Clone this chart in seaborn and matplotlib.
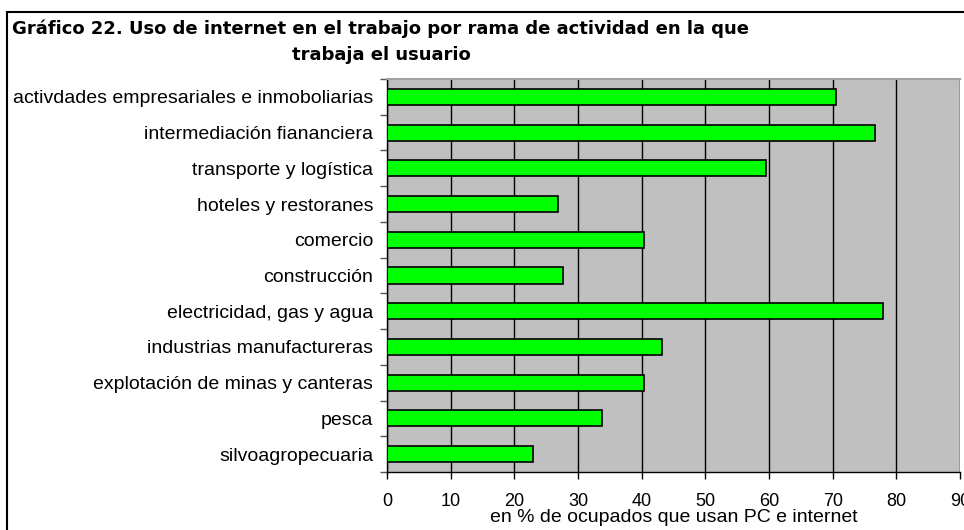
import matplotlib
matplotlib.use("Agg")
import matplotlib.pyplot as plt
import matplotlib.patches as mpatches
import seaborn as sns
import pandas as pd
import numpy as np

categories = [
    "activdades empresariales e inmoboliarias",
    "intermediación fiananciera",
    "transporte y logística",
    "hoteles y restoranes",
    "comercio",
    "construcción",
    "electricidad, gas y agua",
    "industrias manufactureras",
    "explotación de minas y canteras",
    "pesca",
    "silvoagropecuaria",
]
values = [70.6, 76.7, 59.6, 26.8, 40.3, 27.7, 77.9, 43.2, 40.3, 33.8, 23.0]
x_ticks = [0, 10, 20, 30, 40, 50, 60, 70, 80, 90]
title_text = "Gráfico 22. Uso de internet en el trabajo por rama de actividad en la que\ntrabaja el usuario"
xlabel_text = "en % de ocupados que usan PC e internet"

sns.set_style("white")
plt.rcParams['font.family'] = ['Liberation Sans', 'DejaVu Sans']
plt.rcParams['text.color'] = 'black'
plt.rcParams['axes.labelcolor'] = 'black'
plt.rcParams['xtick.color'] = 'black'
plt.rcParams['ytick.color'] = 'black'

fig = plt.figure(figsize=(9.64, 5.30), dpi=100)
W, H = 964, 530
ax = fig.add_axes([387 / W, 1 - 472 / H, (960 - 387) / W, (472 - 79) / H])

df = pd.DataFrame({"cat": categories, "val": values})
sns.barplot(data=df, x="val", y="cat", orient="h", color="#00FF00",
            edgecolor="black", linewidth=1.2, width=0.45, saturation=1, ax=ax, zorder=3)

ax.set_facecolor("#C0C0C0")
ax.set_xlim(0, 90)
ax.set_ylim(len(categories) - 0.5, -0.5)
ax.set_xticks(x_ticks)
ax.set_xticklabels([str(t) for t in x_ticks], fontsize=13)
ax.xaxis.grid(True, color="black", linewidth=1, zorder=1)
ax.set_axisbelow(True)
ax.yaxis.grid(False)

ax.set_ylabel("")
ax.set_xlabel(xlabel_text, fontsize=14)
ax.xaxis.set_label_coords(0.5, -(509 - 472) / (472 - 79))
ax.tick_params(axis="x", direction="out", length=5, width=1, color="black", pad=10, bottom=True)
ax.tick_params(axis="y", which="major", length=0, pad=10, labelsize=14)
ax.set_yticks(np.arange(-0.5, len(categories) + 0.5, 1), minor=True)
ax.tick_params(axis="y", which="minor", direction="out", length=5, width=1, color="#555555", left=True)

for s in ["left", "bottom"]:
    ax.spines[s].set_color("black")
    ax.spines[s].set_linewidth(1)
ax.spines["top"].set_color("#A0A0A0")
ax.spines["top"].set_linewidth(1.5)
ax.spines["right"].set_visible(False)

# outer chart border (clipped at right/bottom)
rect = mpatches.Rectangle((7 / W, -0.1), 1.2, 1 - 12 / H + 0.1, transform=fig.transFigure,
                          fill=False, edgecolor="black", linewidth=1.5)
fig.patches.append(rect)

fig.text(381 / W, 1 - 42 / H, title_text, ha="center", va="center",
         fontsize=13, fontweight="bold", family=["DejaVu Sans"], linespacing=1.55)

fig.savefig("out.png", dpi=100)
